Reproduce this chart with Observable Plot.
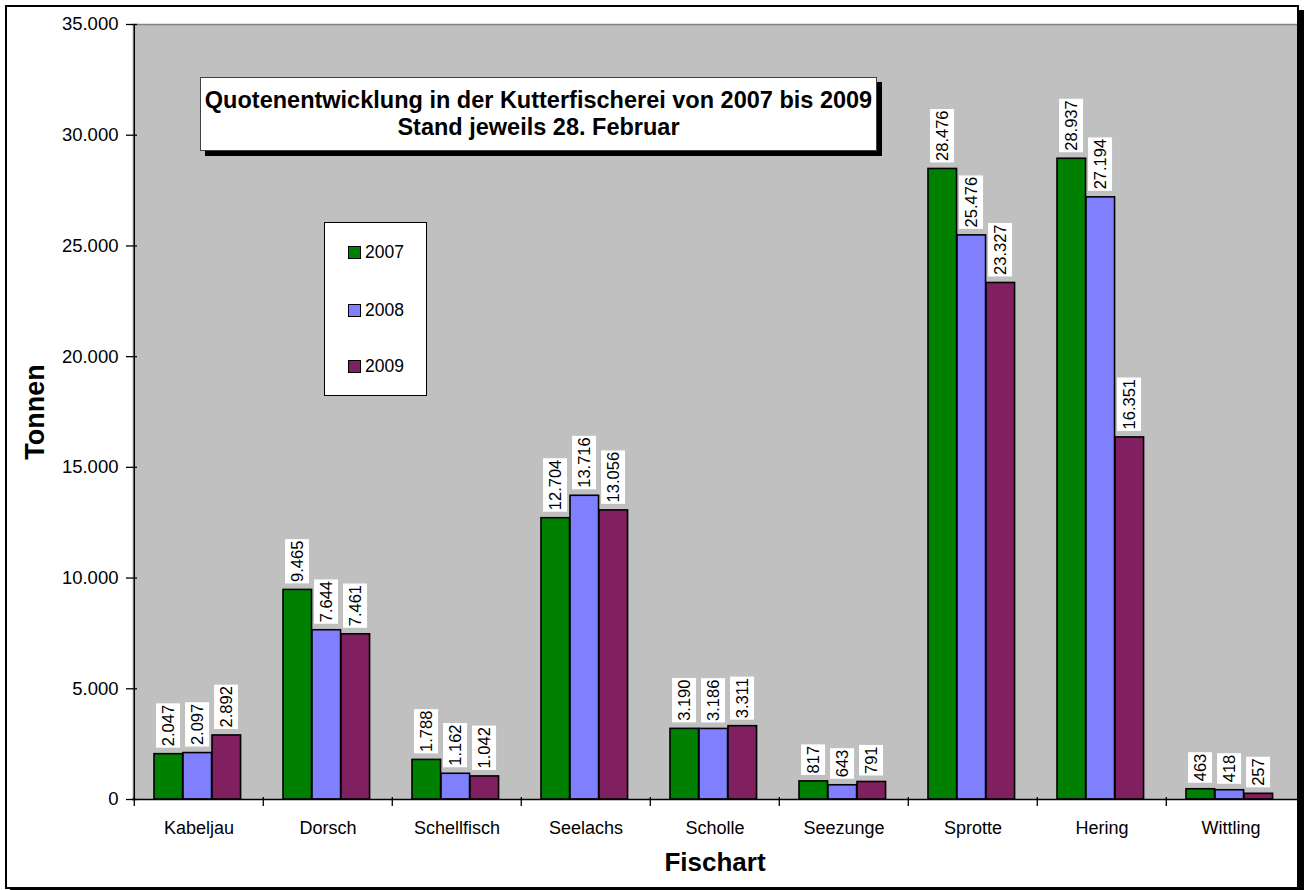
<!DOCTYPE html>
<html>
<head>
<meta charset="utf-8">
<script src="https://cdn.jsdelivr.net/npm/d3@7"></script>
<script src="https://cdn.jsdelivr.net/npm/@observablehq/plot@0.6"></script>
<style>
  body { margin: 0; background: #fff; font-family: "Liberation Sans", Arial, sans-serif; }
  #wrap { position: relative; width: 1305px; height: 890px; overflow: hidden; }
  #chart { position: absolute; left: 0; top: 0; }
  #frame { position: absolute; left: 5px; top: 5px; width: 1290px; height: 880px; border: 2px solid #000; box-shadow: 5px 5px 0 #000; pointer-events: none; }
  #title { position: absolute; left: 200px; top: 77px; width: 675px; height: 72px; background: #fff; border: 1px solid #404040; box-shadow: 5px 5px 0 #000; display: flex; flex-direction: column; justify-content: center; align-items: center; font-weight: bold; font-size: 23.5px; line-height: 27px; color: #000; }
  #legend { position: absolute; left: 324px; top: 222px; width: 101px; height: 172px; background: #fff; border: 1px solid #000; }
  .leg-item { position: absolute; left: 23px; display: flex; align-items: center; font-size: 17.5px; color: #000; height: 20px; }
  .leg-sw { width: 11px; height: 11px; border: 1px solid #000; margin-right: 4px; }
</style>
</head>
<body>
<div id="wrap">
  <div id="chart"></div>
  <div id="title"><div>Quotenentwicklung in der Kutterfischerei von 2007 bis 2009</div><div>Stand jeweils 28. Februar</div></div>
  <div id="legend"></div>
  <div id="frame"></div>
</div>
<script>
const categories = ["Kabeljau", "Dorsch", "Schellfisch", "Seelachs", "Scholle", "Seezunge", "Sprotte", "Hering", "Wittling"];
const years = ["2007", "2008", "2009"];
const colors = ["#008000", "#8080ff", "#802060"];
const values2007 = [2047, 9465, 1788, 12704, 3190, 817, 28476, 28937, 463];
const values2008 = [2097, 7644, 1162, 13716, 3186, 643, 25476, 27194, 418];
const values2009 = [2892, 7461, 1042, 13056, 3311, 791, 23327, 16351, 257];
const yTicks = [0, 5000, 10000, 15000, 20000, 25000, 30000, 35000];
const yAxisTitle = "Tonnen";
const xAxisTitle = "Fischart";

const seriesValues = [values2007, values2008, values2009];
const rows = [];
years.forEach((yr, k) => categories.forEach((c, i) => rows.push({category: c, year: yr, value: seriesValues[k][i]})));

const de = d3.formatLocale({decimal: ",", thousands: ".", grouping: [3], currency: ["", "€"]});
const fmt = de.format(",d");

const W = 1305, H = 890, ML = 132, MR = 8, MT = 24, MB = 91;
const bw = (W - ML - MR) / categories.length;
const groupStart = 20, barW = 29;

const barMarks = [];
const labelMarks = [];
years.forEach((yr, k) => {
  const data = rows.filter(d => d.year === yr);
  const left = groupStart + barW * k;
  barMarks.push(Plot.barY(data, {
    x: "category", y: "value", fill: colors[k], stroke: "#000", strokeWidth: 1.6,
    insetLeft: left, insetRight: bw - left - barW
  }));
  labelMarks.push(Plot.text(data, {
    x: "category", y: "value", text: d => fmt(d.value), rotate: -90, textAnchor: "start",
    dx: left + barW / 2 - bw / 2, dy: -8, fontSize: 16.5, fill: "#000", className: "vlabel"
  }));
});

const chart = Plot.plot({
  width: W, height: H,
  marginLeft: ML, marginRight: MR, marginTop: MT, marginBottom: MB,
  style: {fontFamily: "Liberation Sans, Arial, sans-serif", background: "transparent", color: "#000"},
  x: {type: "band", domain: categories, padding: 0, label: null},
  y: {domain: [0, 35000], label: null},
  marks: [
    Plot.frame({fill: "#c0c0c0", stroke: "none"}),
    Plot.ruleY([35000], {stroke: "#808080", strokeWidth: 1.5}),
    ...barMarks,
    Plot.ruleY([0], {stroke: "#000", strokeWidth: 1.5}),
    Plot.ruleX([categories[0]], {dx: -bw / 2, stroke: "#000", strokeWidth: 1.5}),
    Plot.axisY({ticks: yTicks, tickSize: 0, tickPadding: 14, tickFormat: fmt, fontSize: 18.5}),
    Plot.axisY({ticks: yTicks, tickSize: 11, dx: 5, tickFormat: () => "", strokeWidth: 1.3}),
    Plot.axisX({tickSize: 0, tickPadding: 22, fontSize: 18}),
    Plot.axisX({tickSize: 9, dx: -bw / 2, dy: -2, tickFormat: () => "", strokeWidth: 1.3}),
    ...labelMarks,
    Plot.text([yAxisTitle], {frameAnchor: "left", textAnchor: "middle", lineAnchor: "middle", dx: -97, rotate: -90, fontSize: 27, fontWeight: "bold", fill: "#000"}),
    Plot.text([xAxisTitle], {frameAnchor: "bottom", textAnchor: "middle", lineAnchor: "middle", dy: 63, fontSize: 26, fontWeight: "bold", fill: "#000"})
  ]
});
document.getElementById("chart").appendChild(chart);

// white boxes behind the value labels
chart.querySelectorAll(".vlabel text").forEach(t => {
  const b = t.getBBox();
  const r = document.createElementNS("http://www.w3.org/2000/svg", "rect");
  r.setAttribute("x", b.x - 1.5);
  r.setAttribute("y", b.y - 3);
  r.setAttribute("width", b.width + 3);
  r.setAttribute("height", b.height + 6);
  r.setAttribute("fill", "#fff");
  const tr = t.getAttribute("transform");
  if (tr) r.setAttribute("transform", tr);
  t.parentNode.insertBefore(r, t);
});

// legend
const legend = document.getElementById("legend");
const rowTops = [19, 77, 133];
years.forEach((yr, k) => {
  const item = document.createElement("div");
  item.className = "leg-item";
  item.style.top = rowTops[k] + "px";
  const sw = document.createElement("div");
  sw.className = "leg-sw";
  sw.style.background = colors[k];
  const tx = document.createElement("span");
  tx.textContent = yr;
  item.appendChild(sw);
  item.appendChild(tx);
  legend.appendChild(item);
});
</script>
</body>
</html>
